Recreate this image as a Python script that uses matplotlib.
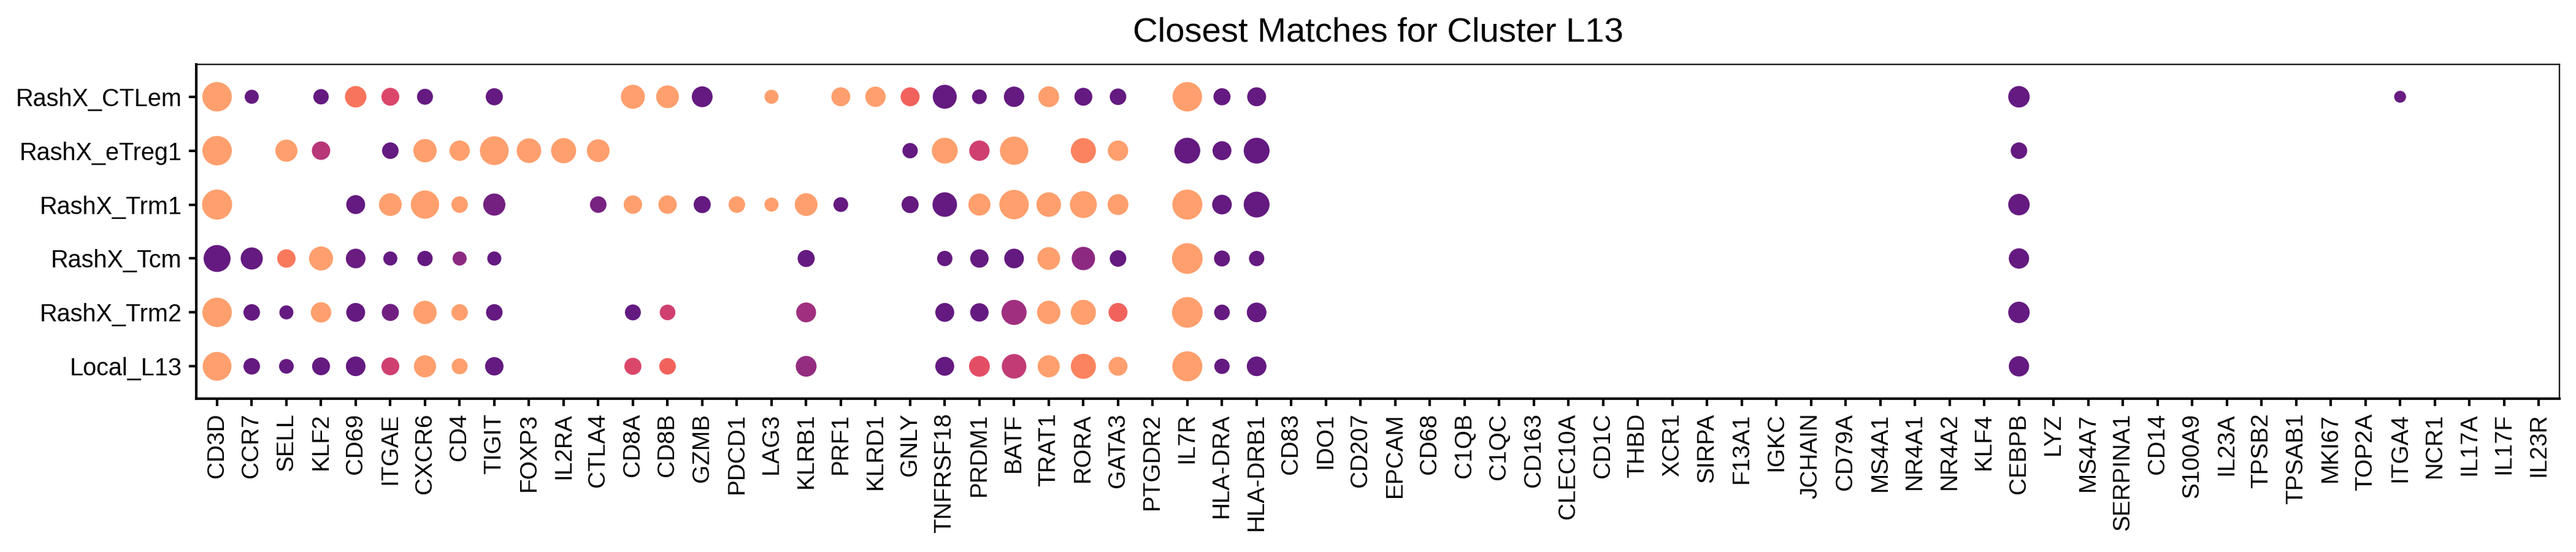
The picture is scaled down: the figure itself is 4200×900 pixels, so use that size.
import numpy as np
import matplotlib
matplotlib.use('Agg')
import matplotlib.pyplot as plt
from matplotlib.colors import ListedColormap

plt.rcParams['font.family'] = ['Liberation Sans', 'DejaVu Sans']

genes = ['CD3D', 'CCR7', 'SELL', 'KLF2', 'CD69', 'ITGAE', 'CXCR6', 'CD4', 'TIGIT',
         'FOXP3', 'IL2RA', 'CTLA4', 'CD8A', 'CD8B', 'GZMB', 'PDCD1', 'LAG3', 'KLRB1',
         'PRF1', 'KLRD1', 'GNLY', 'TNFRSF18', 'PRDM1', 'BATF', 'TRAT1', 'RORA', 'GATA3',
         'PTGDR2', 'IL7R', 'HLA-DRA', 'HLA-DRB1', 'CD83', 'IDO1', 'CD207', 'EPCAM',
         'CD68', 'C1QB', 'C1QC', 'CD163', 'CLEC10A', 'CD1C', 'THBD', 'XCR1', 'SIRPA',
         'F13A1', 'IGKC', 'JCHAIN', 'CD79A', 'MS4A1', 'NR4A1', 'NR4A2', 'KLF4', 'CEBPB',
         'LYZ', 'MS4A7', 'SERPINA1', 'CD14', 'S100A9', 'IL23A', 'TPSB2', 'TPSAB1',
         'MKI67', 'TOP2A', 'ITGA4', 'NCR1', 'IL17A', 'IL17F', 'IL23R']

clusters = ['RashX_CTLem', 'RashX_eTreg1', 'RashX_Trm1', 'RashX_Tcm', 'RashX_Trm2', 'Local_L13']

# per cluster: detected genes, percent expressing, scaled expression (0 low .. 1 high)
ctlem_genes = ['CD3D', 'CCR7', 'KLF2', 'CD69', 'ITGAE', 'CXCR6', 'TIGIT', 'CD8A', 'CD8B', 'GZMB',
               'LAG3', 'PRF1', 'KLRD1', 'GNLY', 'TNFRSF18', 'PRDM1', 'BATF', 'TRAT1', 'RORA',
               'GATA3', 'IL7R', 'HLA-DRA', 'HLA-DRB1', 'CEBPB', 'ITGA4']
ctlem_pct = [92, 21, 25, 49, 34, 27, 31, 61, 55, 46, 21, 38, 44, 38, 61, 23, 44, 46, 34,
             29, 92, 31, 38, 49, 15]
ctlem_expr = [1.0, 0.0, 0.0, 0.82, 0.58, 0.0, 0.0, 1.0, 1.0, 0.0, 1.0, 1.0, 1.0, 0.74, 0.0,
              0.0, 0.0, 1.0, 0.0, 0.0, 1.0, 0.0, 0.0, 0.0, 0.02]

etreg_genes = ['CD3D', 'SELL', 'KLF2', 'ITGAE', 'CXCR6', 'CD4', 'TIGIT', 'FOXP3', 'IL2RA', 'CTLA4',
               'GNLY', 'TNFRSF18', 'PRDM1', 'BATF', 'RORA', 'GATA3', 'IL7R', 'HLA-DRA',
               'HLA-DRB1', 'CEBPB']
etreg_pct = [92, 52, 36, 29, 58, 44, 88, 64, 67, 55, 25, 71, 44, 85, 67, 44, 71, 38, 71, 29]
etreg_expr = [1.0, 1.0, 0.4, 0.0, 1.0, 1.0, 1.0, 1.0, 1.0, 1.0, 0.0, 1.0, 0.52, 1.0, 0.88,
              1.0, 0.0, 0.0, 0.0, 0.0]

trm1_genes = ['CD3D', 'CD69', 'ITGAE', 'CXCR6', 'CD4', 'TIGIT', 'CTLA4', 'CD8A', 'CD8B', 'GZMB',
              'PDCD1', 'LAG3', 'KLRB1', 'PRF1', 'GNLY', 'TNFRSF18', 'PRDM1', 'BATF', 'TRAT1',
              'RORA', 'GATA3', 'IL7R', 'HLA-DRA', 'HLA-DRB1', 'CEBPB']
trm1_pct = [96, 38, 55, 85, 29, 52, 29, 36, 36, 31, 29, 21, 55, 23, 31, 64, 52, 92, 64,
            77, 46, 96, 41, 71, 49]
trm1_expr = [1.0, 0.0, 1.0, 1.0, 1.0, 0.08, 0.1, 1.0, 1.0, 0.0, 1.0, 1.0, 1.0, 0.0, 0.0,
             0.0, 1.0, 1.0, 1.0, 1.0, 1.0, 1.0, 0.0, 0.0, 0.0]

tcm_genes = ['CD3D', 'CCR7', 'SELL', 'KLF2', 'CD69', 'ITGAE', 'CXCR6', 'CD4', 'TIGIT', 'KLRB1',
             'TNFRSF18', 'PRDM1', 'BATF', 'TRAT1', 'RORA', 'GATA3', 'IL7R', 'HLA-DRA',
             'HLA-DRB1', 'CEBPB']
tcm_pct = [77, 52, 36, 61, 41, 21, 25, 21, 21, 31, 25, 36, 41, 55, 58, 29, 100, 27, 25, 44]
tcm_expr = [0.0, 0.0, 0.84, 1.0, 0.03, 0.0, 0.0, 0.2, 0.0, 0.0, 0.0, 0.0, 0.0, 1.0, 0.2,
            0.0, 1.0, 0.0, 0.0, 0.0]

trm2_genes = ['CD3D', 'CCR7', 'SELL', 'KLF2', 'CD69', 'ITGAE', 'CXCR6', 'CD4', 'TIGIT', 'CD8A',
              'CD8B', 'KLRB1', 'TNFRSF18', 'PRDM1', 'BATF', 'TRAT1', 'RORA', 'GATA3', 'IL7R',
              'HLA-DRA', 'HLA-DRB1', 'CEBPB']
trm2_pct = [92, 29, 21, 44, 38, 31, 58, 29, 29, 27, 26, 42, 38, 36, 67, 58, 67, 38, 100,
            26, 41, 49]
trm2_expr = [1.0, 0.0, 0.0, 1.0, 0.0, 0.06, 1.0, 1.0, 0.0, 0.0, 0.52, 0.3, 0.0, 0.0, 0.3,
             1.0, 1.0, 0.74, 1.0, 0.0, 0.0, 0.0]

local_genes = ['CD3D', 'CCR7', 'SELL', 'KLF2', 'CD69', 'ITGAE', 'CXCR6', 'CD4', 'TIGIT', 'CD8A',
               'CD8B', 'KLRB1', 'TNFRSF18', 'PRDM1', 'BATF', 'TRAT1', 'RORA', 'GATA3', 'IL7R',
               'HLA-DRA', 'HLA-DRB1', 'CEBPB']
local_pct = [88, 29, 23, 34, 41, 34, 52, 27, 36, 31, 29, 46, 38, 46, 64, 52, 67, 38, 96,
             25, 41, 44]
local_expr = [1.0, 0.0, 0.0, 0.0, 0.0, 0.52, 1.0, 1.0, 0.0, 0.58, 0.74, 0.24, 0.0, 0.63,
              0.46, 1.0, 0.88, 1.0, 1.0, 0.0, 0.0, 0.0]

rows = [(ctlem_genes, ctlem_pct, ctlem_expr),
        (etreg_genes, etreg_pct, etreg_expr),
        (trm1_genes, trm1_pct, trm1_expr),
        (tcm_genes, tcm_pct, tcm_expr),
        (trm2_genes, trm2_pct, trm2_expr),
        (local_genes, local_pct, local_expr)]

# magma between dark purple and peach
cmap = ListedColormap(plt.get_cmap('magma')(np.linspace(0.3, 0.8, 256)))

xs, ys, ss, cs = [], [], [], []
for yi, (g, p, e) in enumerate(rows):
    for gene, pct, ex in zip(g, p, e):
        xs.append(genes.index(gene))
        ys.append(yi)
        ss.append(144 * pct / 100.0)
        cs.append(ex)

fig = plt.figure(figsize=(14, 3), dpi=300)
ax = fig.add_axes([0.0762, 0.2778, 0.9174, 0.6055])
ax.scatter(xs, ys, s=ss, c=cs, cmap=cmap, vmin=0, vmax=1, linewidths=0)

ax.set_xlim(-0.6, len(genes) - 1 + 0.6)
ax.set_ylim(len(clusters) - 1 + 0.6, -0.6)
ax.set_xticks(range(len(genes)))
ax.set_xticklabels(genes, rotation=90, fontsize=9.3)
ax.set_yticks(range(len(clusters)))
ax.set_yticklabels(clusters, fontsize=9.5)
ax.tick_params(length=2.9, width=1.0, pad=2.8, color='black')

for side in ['left', 'bottom']:
    ax.spines[side].set_linewidth(1.0)
for side in ['top', 'right']:
    ax.spines[side].set_linewidth(0.55)

ax.set_title('Closest Matches for Cluster L13', fontsize=13.5, pad=9)

fig.savefig('out.png', dpi=300)
